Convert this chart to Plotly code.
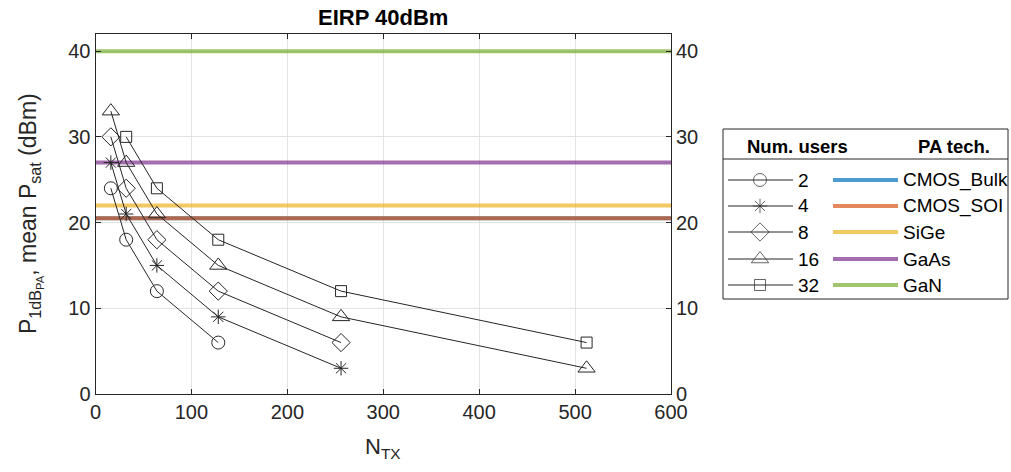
import plotly.graph_objects as go

W, H = 1011, 472

# ---- data ----
n_tx = [16, 32, 64, 128, 256, 512]
users = ["2", "4", "8", "16", "32"]
p_2 = [24, 18, 12, 6, None, None]
p_4 = [27, 21, 15, 9, 3, None]
p_8 = [30, 24, 18, 12, 6, None]
p_16 = [33, 27, 21, 15, 9, 3]
p_32 = [None, 30, 24, 18, 12, 6]
series = [p_2, p_4, p_8, p_16, p_32]
symbols = ["circle-open", "asterisk-open", "diamond-open", "triangle-up-open", "square-open"]
msizes = [13, 12, 14, 15, 11]

tech = ["CMOS_Bulk", "CMOS_SOI", "SiGe", "GaAs", "GaN"]
tech_psat = [20.5, 20.5, 22, 27, 40]
tech_colors = ["rgba(0,114,189,0.7)", "rgba(217,83,25,0.7)", "rgba(237,177,32,0.7)",
               "rgba(126,47,142,0.7)", "rgba(119,172,48,0.7)"]

x_ticks = [0, 100, 200, 300, 400, 500, 600]
y_ticks = [0, 10, 20, 30, 40]

# ---- layout geometry (pixels) ----
X0, X1 = 95.5, 671.0
Y0, Y1 = 394.0, 34.0  # bottom, top
FONT = "Liberation Sans, Arial"

def px(x):
    return x / W

def py(y):
    return 1 - y / H

fig = go.Figure()

def label(x, y, text, size, color="#000000", xanchor="center", angle=0):
    fig.add_annotation(x=px(x), y=py(y), xref="paper", yref="paper", text=text,
                       showarrow=False, xanchor=xanchor, yanchor="middle",
                       textangle=angle,
                       font=dict(size=size, color=color, family=FONT))

for name, v, c in zip(tech, tech_psat, tech_colors):
    fig.add_trace(go.Scatter(x=[0, 600], y=[v, v], mode="lines",
                             line=dict(color=c, width=4), showlegend=False,
                             hoverinfo="skip"))

for s, sym, ms in zip(series, symbols, msizes):
    fig.add_trace(go.Scatter(x=n_tx, y=s, mode="lines+markers",
                             line=dict(color="#262626", width=1),
                             marker=dict(symbol=sym, size=ms, color="#262626",
                                         line=dict(width=1, color="#262626")),
                             showlegend=False, connectgaps=False))

# invisible trace for right axis
fig.add_trace(go.Scatter(x=[0], y=[0], yaxis="y2", mode="markers",
                         marker=dict(opacity=0), showlegend=False, hoverinfo="skip"))

# ---- legend (custom) ----
LX0, LX1, LY0, LY1 = 723, 1008, 129, 299
row_y = [180, 206, 232, 259, 285]
fig.add_shape(type="rect", xref="paper", yref="paper",
              x0=px(LX0), x1=px(LX1), y0=py(LY1), y1=py(LY0),
              line=dict(color="#262626", width=1), fillcolor="rgba(0,0,0,0)")
fig.add_shape(type="line", xref="paper", yref="paper",
              x0=px(LX0), x1=px(LX1), y0=py(159), y1=py(159),
              line=dict(color="#262626", width=1))
label(797, 146, "<b>Num. users</b>", 18.5)
label(954, 146, "<b>PA tech.</b>", 18.5)

for i, (u, ry) in enumerate(zip(users, row_y)):
    fig.add_shape(type="line", xref="paper", yref="paper",
                  x0=px(728), x1=px(793), y0=py(ry), y1=py(ry),
                  line=dict(color="#262626", width=1))
    label(796, ry, u, 19, xanchor="left")
    fig.add_shape(type="line", xref="paper", yref="paper",
                  x0=px(833), x1=px(898), y0=py(ry), y1=py(ry),
                  line=dict(color=tech_colors[i], width=4))
    label(901, ry, tech[i], 19, xanchor="left")

fig.add_trace(go.Scatter(x=[760] * 5, y=row_y, xaxis="x3", yaxis="y3", mode="markers",
                         marker=dict(symbol=symbols, size=msizes, color="#262626",
                                     line=dict(width=1, color="#262626")),
                         showlegend=False, hoverinfo="skip"))

# ---- texts ----
label((X0 + X1) / 2, 17, "<b>EIRP 40dBm</b>", 22)
label((X0 + X1) / 2, 448, "N<sub>TX</sub>", 22, color="#262626")
label(30, 214,
      "P<sub>1dB<sub>PA</sub></sub>, mean P<sub>sat</sub> (dBm)",
      23, color="#262626", angle=-90)

axis_common = dict(showline=True, linecolor="#262626", linewidth=1,
                   ticks="inside", ticklen=5, tickcolor="#262626",
                   tickfont=dict(size=20, color="#262626", family=FONT),
                   zeroline=False, automargin=False)

fig.update_layout(
    width=W, height=H,
    margin=dict(l=0, r=0, t=0, b=0),
    paper_bgcolor="white", plot_bgcolor="rgba(0,0,0,0)",
    template="none",
    showlegend=False,
    xaxis=dict(domain=[px(X0), px(X1)], range=[0, 600], tickvals=x_ticks,
               showgrid=True, gridcolor="#e3e3e3", gridwidth=1, mirror="ticks",
               anchor="y", **axis_common),
    yaxis=dict(domain=[py(Y0), py(Y1)], range=[0, 42], tickvals=y_ticks,
               showgrid=True, gridcolor="#e3e3e3", gridwidth=1, mirror=False,
               anchor="x", **axis_common),
    yaxis2=dict(domain=[py(Y0), py(Y1)], range=[0, 42], tickvals=y_ticks,
                overlaying="y", side="right", anchor="x", showgrid=False,
                **axis_common),
    xaxis3=dict(domain=[0, 1], range=[0, W], visible=False, anchor="y3"),
    yaxis3=dict(domain=[0, 1], range=[H, 0], visible=False, anchor="x3"),
)

fig.write_html("out.html")
